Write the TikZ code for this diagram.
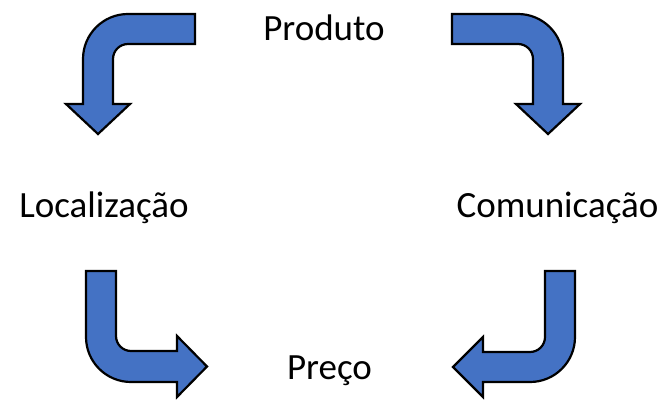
\documentclass[tikz,border=0pt]{standalone}
\usepackage{fontspec}
\setmainfont{Carlito}
\definecolor{arrowblue}{HTML}{4472C4}
\begin{document}
\begin{tikzpicture}[x=1pt,y=-1pt,
  bentarrow/.style={fill=arrowblue,draw=black,line width=2.2pt,line join=miter},
  label/.style={anchor=base,font=\fontsize{37}{41}\selectfont,inner sep=0pt}]
\useasboundingbox (0,0) rectangle (660,401);

% labels of the cycle
\node[label] (produto) at (324,41) {Produto};
\node[label] (local) at (104,217) {Localização};
\node[label] (comun) at (557.5,217) {Comunicação};
\node[label] (preco) at (329.5,379) {Preço};

% top left bent arrow
\draw[bentarrow] (195,14) -- (128,14) .. controls (103.15,14) and (83,34.15) .. (83,59)
  -- (83,104) -- (66,104) -- (98,134) -- (130,104) -- (113,104) -- (113,59)
  .. controls (113,50.72) and (119.72,44) .. (128,44) -- (195,44) -- cycle;

% top right bent arrow
\draw[bentarrow] (452,14) -- (518,14) .. controls (542.85,14) and (563,34.15) .. (563,59)
  -- (563,104) -- (580,104) -- (548,134) -- (516,104) -- (533,104) -- (533,59)
  .. controls (533,50.72) and (526.28,44) .. (518,44) -- (452,44) -- cycle;

% bottom left bent arrow
\draw[bentarrow] (86,271) -- (86,337) .. controls (86,361.85) and (106.15,382) .. (131,382)
  -- (177,382) -- (177,397) -- (207,366.5) -- (177,336) -- (177,351) -- (131,351)
  .. controls (122.72,351) and (116,344.28) .. (116,336) -- (116,271) -- cycle;

% bottom right bent arrow
\draw[bentarrow] (575,271) -- (575,337) .. controls (575,361.85) and (554.85,382) .. (530,382)
  -- (483,382) -- (483,397) -- (453,367) -- (483,337) -- (483,352) -- (530,352)
  .. controls (538.28,352) and (545,345.28) .. (545,337) -- (545,271) -- cycle;
\end{tikzpicture}
\end{document}
